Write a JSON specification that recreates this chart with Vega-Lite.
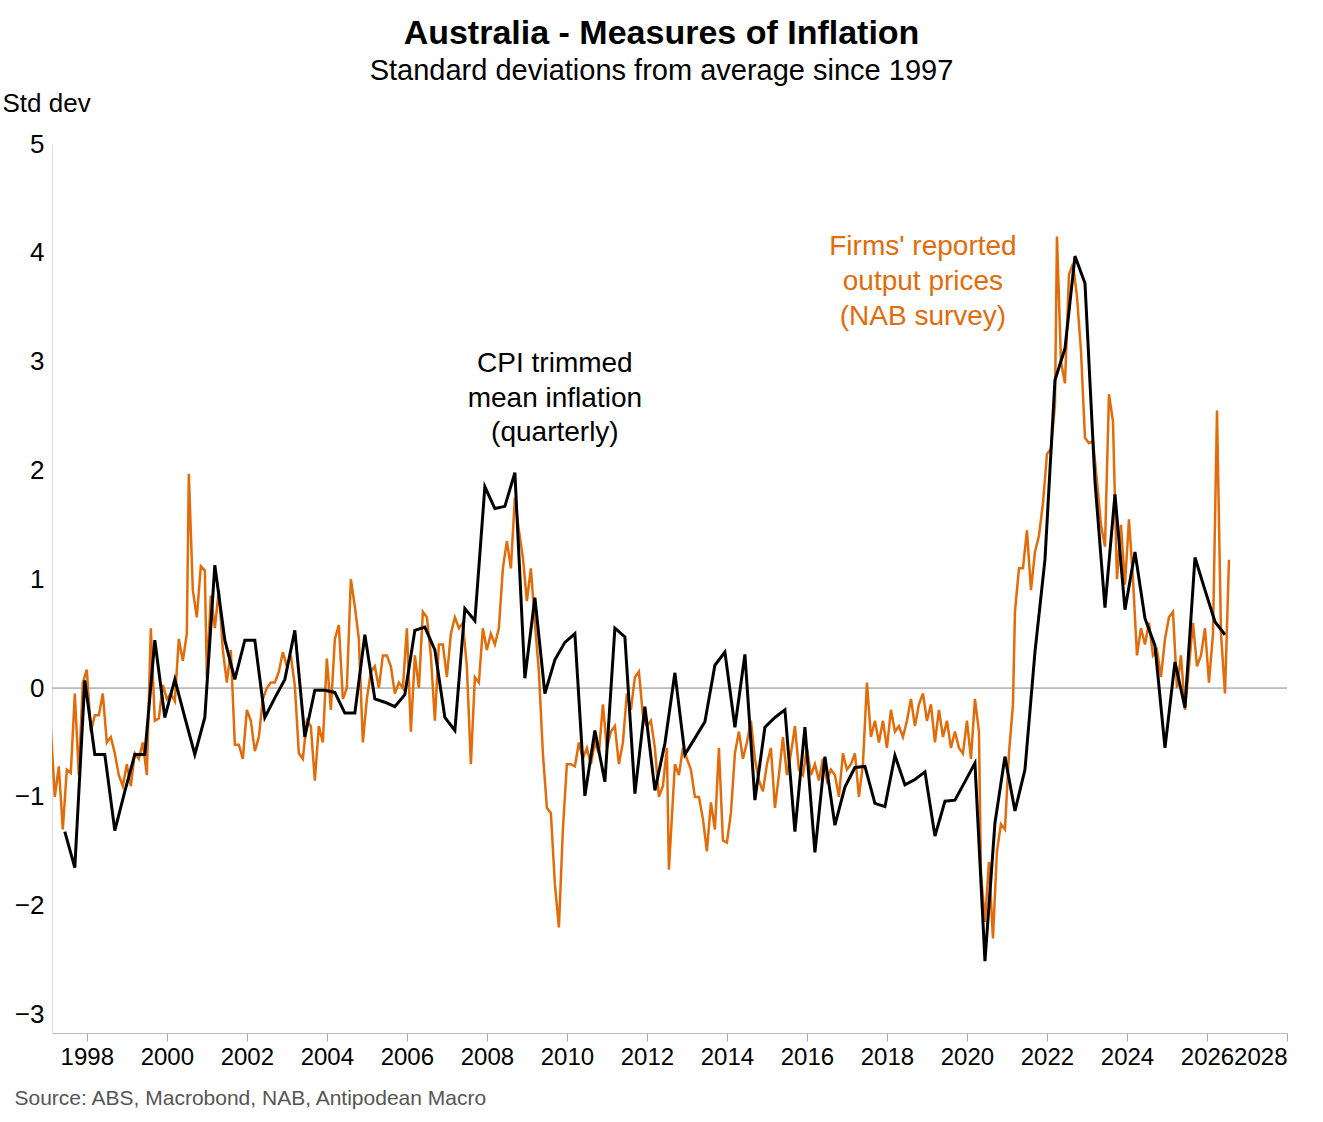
{
"$schema":"https://vega.github.io/schema/vega-lite/v6.json",
"autosize":{"type":"none"},
"width":1235,"height":889,
"padding":{"left":52,"top":144,"right":36,"bottom":89},
"background":"white",
"config":{"font":"Liberation Sans","view":{"stroke":null}},
"title":{"text":"Australia - Measures of Inflation","subtitle":"Standard deviations from average since 1997","fontSize":34,"fontWeight":"bold","subtitleFontSize":29,"subtitlePadding":6,"anchor":"middle","offset":4,"color":"black","subtitleColor":"black","frame":"group","dx":-8},
"datasets":{
"cpi":[
[1997.45,-1.32],[1997.7,-1.65],[1997.95,0.07],[1998.2,-0.61],[1998.45,-0.61],[1998.7,-1.31],[1998.95,-0.95],[1999.2,-0.61],[1999.45,-0.61],[1999.7,0.44],[1999.95,-0.27],[2000.2,0.08],[2000.45,-0.27],[2000.7,-0.61],[2000.95,-0.27],[2001.2,1.13],[2001.45,0.44],[2001.7,0.08],[2001.95,0.44],[2002.2,0.44],[2002.45,-0.27],[2002.7,-0.09],[2002.95,0.08],[2003.2,0.53],[2003.45,-0.45],[2003.7,-0.02],[2003.95,-0.02],[2004.2,-0.04],[2004.45,-0.23],[2004.7,-0.23],[2004.95,0.49],[2005.2,-0.10],[2005.45,-0.13],[2005.7,-0.17],[2005.95,-0.06],[2006.2,0.53],[2006.45,0.56],[2006.7,0.35],[2006.95,-0.27],[2007.2,-0.39],[2007.45,0.73],[2007.7,0.62],[2007.95,1.85],[2008.2,1.65],[2008.45,1.67],[2008.7,1.98],[2008.95,0.09],[2009.2,0.83],[2009.45,-0.05],[2009.7,0.26],[2009.95,0.42],[2010.2,0.50],[2010.45,-0.99],[2010.7,-0.39],[2010.95,-0.86],[2011.2,0.55],[2011.45,0.47],[2011.7,-0.97],[2011.95,-0.17],[2012.2,-0.94],[2012.45,-0.51],[2012.7,0.14],[2012.95,-0.61],[2013.2,-0.46],[2013.45,-0.31],[2013.7,0.21],[2013.95,0.33],[2014.2,-0.36],[2014.45,0.31],[2014.7,-1.03],[2014.95,-0.36],[2015.2,-0.27],[2015.45,-0.20],[2015.7,-1.32],[2015.95,-0.36],[2016.2,-1.51],[2016.45,-0.63],[2016.7,-1.26],[2016.95,-0.91],[2017.2,-0.73],[2017.45,-0.72],[2017.7,-1.06],[2017.95,-1.09],[2018.2,-0.62],[2018.45,-0.89],[2018.7,-0.84],[2018.95,-0.77],[2019.2,-1.36],[2019.45,-1.04],[2019.7,-1.03],[2019.95,-0.86],[2020.2,-0.69],[2020.45,-2.51],[2020.7,-1.24],[2020.95,-0.63],[2021.2,-1.13],[2021.45,-0.75],[2021.7,0.33],[2021.95,1.18],[2022.2,2.83],[2022.45,3.12],[2022.7,3.97],[2022.95,3.72],[2023.2,1.90],[2023.45,0.74],[2023.7,1.78],[2023.95,0.72],[2024.2,1.25],[2024.45,0.64],[2024.7,0.39],[2024.95,-0.55],[2025.2,0.24],[2025.45,-0.18],[2025.7,1.20],[2025.95,0.90],[2026.2,0.61],[2026.45,0.49]],
"nab":[
[1997.1,-0.37],[1997.2,-1.0],[1997.3,-0.72],[1997.4,-1.3],[1997.5,-0.75],[1997.6,-0.78],[1997.7,-0.05],[1997.8,-0.8],[1997.9,0.05],[1998.0,0.17],[1998.1,-0.4],[1998.2,-0.25],[1998.3,-0.25],[1998.4,-0.05],[1998.5,-0.5],[1998.6,-0.45],[1998.7,-0.6],[1998.8,-0.8],[1998.9,-0.9],[1999.0,-0.7],[1999.1,-0.9],[1999.2,-0.6],[1999.3,-0.65],[1999.4,-0.5],[1999.5,-0.8],[1999.6,0.55],[1999.7,-0.3],[1999.8,-0.28],[1999.9,0.03],[2000.0,-0.1],[2000.1,-0.05],[2000.2,-0.12],[2000.3,0.45],[2000.4,0.25],[2000.5,0.5],[2000.55,1.97],[2000.65,0.9],[2000.75,0.65],[2000.85,1.12],[2000.95,1.08],[2001.0,0.1],[2001.1,0.85],[2001.2,0.55],[2001.3,0.9],[2001.4,0.35],[2001.5,0.05],[2001.6,0.35],[2001.7,-0.52],[2001.8,-0.52],[2001.9,-0.65],[2002.0,-0.2],[2002.1,-0.3],[2002.2,-0.58],[2002.3,-0.45],[2002.4,-0.1],[2002.5,0.0],[2002.6,0.05],[2002.7,0.05],[2002.8,0.15],[2002.9,0.33],[2003.0,0.2],[2003.1,0.3],[2003.2,0.02],[2003.3,-0.6],[2003.4,-0.65],[2003.5,-0.3],[2003.6,-0.35],[2003.7,-0.85],[2003.8,-0.35],[2003.9,-0.5],[2004.0,0.27],[2004.1,-0.2],[2004.2,0.45],[2004.3,0.58],[2004.4,-0.1],[2004.5,0.0],[2004.6,1.0],[2004.7,0.75],[2004.8,0.45],[2004.9,-0.5],[2005.0,-0.1],[2005.1,0.15],[2005.2,0.2],[2005.3,0.0],[2005.4,0.3],[2005.5,0.3],[2005.6,0.2],[2005.7,-0.05],[2005.8,0.05],[2005.9,0.0],[2006.0,0.55],[2006.1,-0.4],[2006.2,0.3],[2006.3,0.0],[2006.4,0.7],[2006.5,0.65],[2006.6,0.3],[2006.7,-0.3],[2006.8,0.4],[2006.9,0.4],[2007.0,0.1],[2007.1,0.5],[2007.2,0.65],[2007.3,0.55],[2007.4,0.6],[2007.5,0.2],[2007.6,-0.7],[2007.7,0.1],[2007.8,0.05],[2007.9,0.55],[2008.0,0.35],[2008.1,0.5],[2008.2,0.4],[2008.3,0.55],[2008.4,1.1],[2008.5,1.35],[2008.6,1.1],[2008.7,1.75],[2008.8,1.45],[2008.9,1.2],[2009.0,0.8],[2009.1,1.1],[2009.2,0.6],[2009.3,0.15],[2009.4,-0.6],[2009.5,-1.1],[2009.6,-1.15],[2009.7,-1.8],[2009.8,-2.2],[2009.9,-1.3],[2010.0,-0.7],[2010.1,-0.7],[2010.2,-0.72],[2010.3,-0.5],[2010.4,-0.65],[2010.5,-0.55],[2010.6,-0.7],[2010.7,-0.5],[2010.8,-0.6],[2010.9,-0.15],[2011.0,-0.55],[2011.1,-0.4],[2011.2,-0.35],[2011.3,-0.7],[2011.4,-0.5],[2011.5,-0.05],[2011.6,-0.2],[2011.7,0.1],[2011.8,0.15],[2011.9,-0.25],[2012.0,-0.35],[2012.1,-0.3],[2012.2,-0.55],[2012.3,-1.0],[2012.4,-0.9],[2012.5,-0.55],[2012.55,-1.67],[2012.7,-0.7],[2012.8,-0.8],[2012.9,-0.55],[2013.0,-0.65],[2013.1,-0.75],[2013.2,-1.0],[2013.3,-1.0],[2013.4,-1.2],[2013.5,-1.5],[2013.6,-1.05],[2013.7,-1.3],[2013.8,-0.55],[2013.9,-1.4],[2014.0,-1.42],[2014.1,-1.15],[2014.2,-0.6],[2014.3,-0.4],[2014.4,-0.65],[2014.5,-0.5],[2014.6,-0.3],[2014.7,-0.65],[2014.8,-0.85],[2014.9,-0.95],[2015.0,-0.7],[2015.1,-0.55],[2015.2,-1.1],[2015.3,-0.8],[2015.4,-0.45],[2015.5,-0.8],[2015.6,-0.6],[2015.7,-0.35],[2015.8,-0.75],[2015.9,-0.8],[2016.0,-0.55],[2016.1,-0.8],[2016.2,-0.7],[2016.3,-0.85],[2016.4,-0.65],[2016.5,-0.85],[2016.6,-0.75],[2016.7,-0.8],[2016.8,-1.0],[2016.9,-0.6],[2017.0,-0.75],[2017.1,-0.7],[2017.2,-0.6],[2017.3,-1.0],[2017.4,-0.7],[2017.5,0.05],[2017.6,-0.45],[2017.7,-0.3],[2017.8,-0.5],[2017.9,-0.3],[2018.0,-0.55],[2018.1,-0.2],[2018.2,-0.4],[2018.3,-0.35],[2018.4,-0.45],[2018.5,-0.3],[2018.6,-0.1],[2018.7,-0.35],[2018.8,-0.15],[2018.9,-0.05],[2019.0,-0.3],[2019.1,-0.15],[2019.2,-0.5],[2019.3,-0.2],[2019.4,-0.45],[2019.5,-0.3],[2019.6,-0.55],[2019.7,-0.4],[2019.8,-0.55],[2019.9,-0.6],[2020.0,-0.3],[2020.1,-0.65],[2020.2,-0.1],[2020.3,-0.4],[2020.35,-1.7],[2020.45,-2.15],[2020.55,-1.6],[2020.65,-2.3],[2020.75,-1.5],[2020.85,-1.25],[2020.95,-1.3],[2021.05,-0.6],[2021.15,-0.15],[2021.2,0.7],[2021.3,1.1],[2021.4,1.1],[2021.5,1.45],[2021.6,0.9],[2021.7,1.25],[2021.8,1.4],[2021.9,1.7],[2022.0,2.15],[2022.1,2.2],[2022.2,2.6],[2022.25,4.15],[2022.35,3.0],[2022.45,2.8],[2022.55,3.8],[2022.65,3.9],[2022.75,3.6],[2022.85,3.1],[2022.95,2.3],[2023.05,2.25],[2023.15,2.27],[2023.25,1.9],[2023.35,1.5],[2023.45,1.3],[2023.55,2.7],[2023.65,2.45],[2023.75,1.0],[2023.85,1.5],[2023.95,0.95],[2024.05,1.55],[2024.15,1.0],[2024.25,0.3],[2024.35,0.55],[2024.45,0.4],[2024.55,0.6],[2024.65,0.3],[2024.75,0.35],[2024.85,0.1],[2024.95,0.45],[2025.05,0.65],[2025.15,0.7],[2025.25,0.0],[2025.35,0.3],[2025.45,-0.2],[2025.55,0.2],[2025.65,0.6],[2025.75,0.2],[2025.85,0.3],[2025.95,0.55],[2026.05,0.05],[2026.15,0.5],[2026.25,2.55],[2026.35,0.5],[2026.45,-0.05],[2026.55,1.18]],
"labels":[
{"x":2009.7,"y":2.98,"t":"CPI trimmed","c":"black"},
{"x":2009.7,"y":2.66,"t":"mean inflation","c":"black"},
{"x":2009.7,"y":2.34,"t":"(quarterly)","c":"black"},
{"x":2018.9,"y":4.05,"t":"Firms' reported","c":"#E36C0A"},
{"x":2018.9,"y":3.73,"t":"output prices","c":"#E36C0A"},
{"x":2018.9,"y":3.41,"t":"(NAB survey)","c":"#E36C0A"}],
"zero":[{"y":0}]
},
"layer":[
{"data":{"name":"zero"},"mark":{"type":"rule","color":"#888888","strokeWidth":1},"encoding":{"y":{"field":"y","type":"quantitative"}}},
{"data":{"name":"nab"},"transform":[{"calculate":"datum[0]","as":"year"},{"calculate":"datum[1]","as":"v"}],
"mark":{"type":"line","color":"#E36C0A","strokeWidth":2.5,"clip":true},
"encoding":{
"x":{"field":"year","type":"quantitative","scale":{"domain":[1997.13,2028],"nice":false,"zero":false},
"axis":{"values":[1998,2000,2002,2004,2006,2008,2010,2012,2014,2016,2018,2020,2022,2024,2026,2028],"labelOverlap":false,"format":"d","labelFontSize":24,"labelColor":"black","tickColor":"#aaaaaa","tickSize":8,"domainColor":"#bbbbbb","grid":false,"labelPadding":4,
"title":"Source: ABS, Macrobond, NAB, Antipodean Macro","titleFontSize":21,"titleFontWeight":"normal","titleColor":"#555555","titleAnchor":"start","titleAlign":"left","titleBaseline":"middle","titleX":-38,"titleY":65}},
"y":{"field":"v","type":"quantitative","scale":{"domain":[-3.17,5],"nice":false,"zero":false},
"axis":{"values":[-3,-2,-1,0,1,2,3,4,5],"format":"d","labelOverlap":false,"labelFontSize":26,"labelColor":"black","ticks":false,"domainColor":"#dddddd","grid":false,"labelPadding":8,
"title":"Std dev","titleAngle":0,"titleFontSize":26,"titleFontWeight":"normal","titleColor":"black","titleAlign":"left","titleX":-50,"titleY":-28}}}},
{"data":{"name":"cpi"},"transform":[{"calculate":"datum[0]","as":"year"},{"calculate":"datum[1]","as":"v"}],
"mark":{"type":"line","color":"black","strokeWidth":3},
"encoding":{"x":{"field":"year","type":"quantitative"},"y":{"field":"v","type":"quantitative"}}},
{"data":{"name":"labels"},"mark":{"type":"text","fontSize":28,"align":"center","baseline":"middle"},
"encoding":{"x":{"field":"x","type":"quantitative"},"y":{"field":"y","type":"quantitative"},"text":{"field":"t"},"color":{"field":"c","type":"nominal","scale":null}}}
]
}
